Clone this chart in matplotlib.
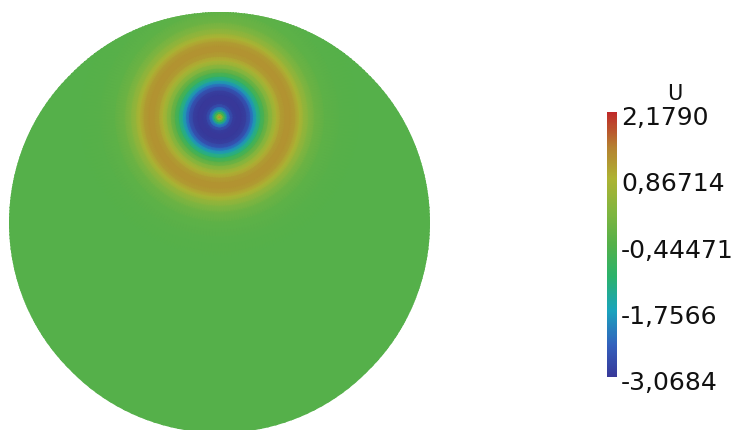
#!/usr/bin/env python3
"""Disc field U with a circular wave around a point source, ParaView-like colour bar."""
import numpy as np
import matplotlib.pyplot as plt
from matplotlib.colors import LinearSegmentedColormap
from matplotlib.patches import Circle
from matplotlib.transforms import offset_copy

# field range and colour bar labels (as printed)
U_MIN, U_MAX = -3.0684, 2.1790
tick_vals = [2.1790, 0.86714, -0.44471, -1.7566, -3.0684]
tick_labels = ['2,1790', '0,86714', '-0,44471', '-1,7566', '-3,0684']

# source position inside the unit disc
src_x, src_y = 0.0, 0.50

# radial profile of U away from the source (radius in disc units)
prof_r = [0.0, 0.0095, 0.019, 0.0285, 0.038, 0.052, 0.0665, 0.0855, 0.1045, 0.128,
          0.147, 0.1615, 0.176, 0.195, 0.214, 0.233, 0.252, 0.271, 0.290, 0.3135,
          0.337, 0.361, 0.380, 0.399, 0.423, 0.451, 0.499, 0.570, 0.665, 1.615]
prof_u = [1.5, 0.8, -0.3, -1.2, -2.0, -2.6, -2.95, -3.07, -3.07, -2.9,
          -2.5, -2.0, -1.5, -0.9, -0.4, 0.1, 0.5, 0.85, 1.1, 1.25,
          1.25, 1.1, 0.85, 0.55, 0.25, -0.05, -0.3, -0.4, -0.44, -0.44]

# colour map stops sampled from the bar
cmap = LinearSegmentedColormap.from_list('pv', [
    (0.00, (0.22, 0.22, 0.60)),
    (0.12, (0.20, 0.38, 0.74)),
    (0.25, (0.10, 0.64, 0.74)),
    (0.38, (0.17, 0.70, 0.42)),
    (0.50, (0.33, 0.69, 0.29)),
    (0.62, (0.50, 0.71, 0.25)),
    (0.75, (0.68, 0.70, 0.20)),
    (0.87, (0.71, 0.50, 0.19)),
    (1.00, (0.75, 0.16, 0.16)),
])

fig = plt.figure(figsize=(7.42, 4.30), dpi=100)
# disc spans x 9..430 px, y 12..433 px
ax = fig.add_axes([9 / 742, -3 / 430, 421 / 742, 421 / 430])
ax.set_xlim(-1, 1)
ax.set_ylim(-1, 1)
ax.set_aspect('equal')
ax.axis('off')

theta = np.linspace(0, 2 * np.pi, 241)
R = np.array(prof_r)[:, None]
X = src_x + R * np.cos(theta)[None, :]
Y = src_y + R * np.sin(theta)[None, :]
C = np.repeat(np.array(prof_u)[:, None], theta.size, axis=1)
mesh = ax.pcolormesh(X, Y, C, cmap=cmap, vmin=U_MIN, vmax=U_MAX, shading='gouraud')
disc = Circle((0, 0), 1.0, transform=ax.transData, facecolor='none', edgecolor='none')
ax.add_patch(disc)
mesh.set_clip_path(disc)

# colour bar
cax = fig.add_axes([607 / 742, 53 / 430, 10 / 742, 265 / 430])
cb = fig.colorbar(mesh, cax=cax)
cb.outline.set_visible(False)
cb.set_ticks([])
label_tr = offset_copy(cax.get_yaxis_transform(), fig=fig, y=-6, units='dots')
for v, lab in zip(tick_vals, tick_labels):
    cax.text(1.4, v, lab, transform=label_tr,
             ha='left', va='center', fontsize=18, color='#111111')
cax.text(6.8, 1.03, 'U', transform=cax.transAxes, ha='center', va='bottom',
         fontsize=15, color='#111111')

plt.savefig('out.png', dpi=100)
print('Wrote out.png')
